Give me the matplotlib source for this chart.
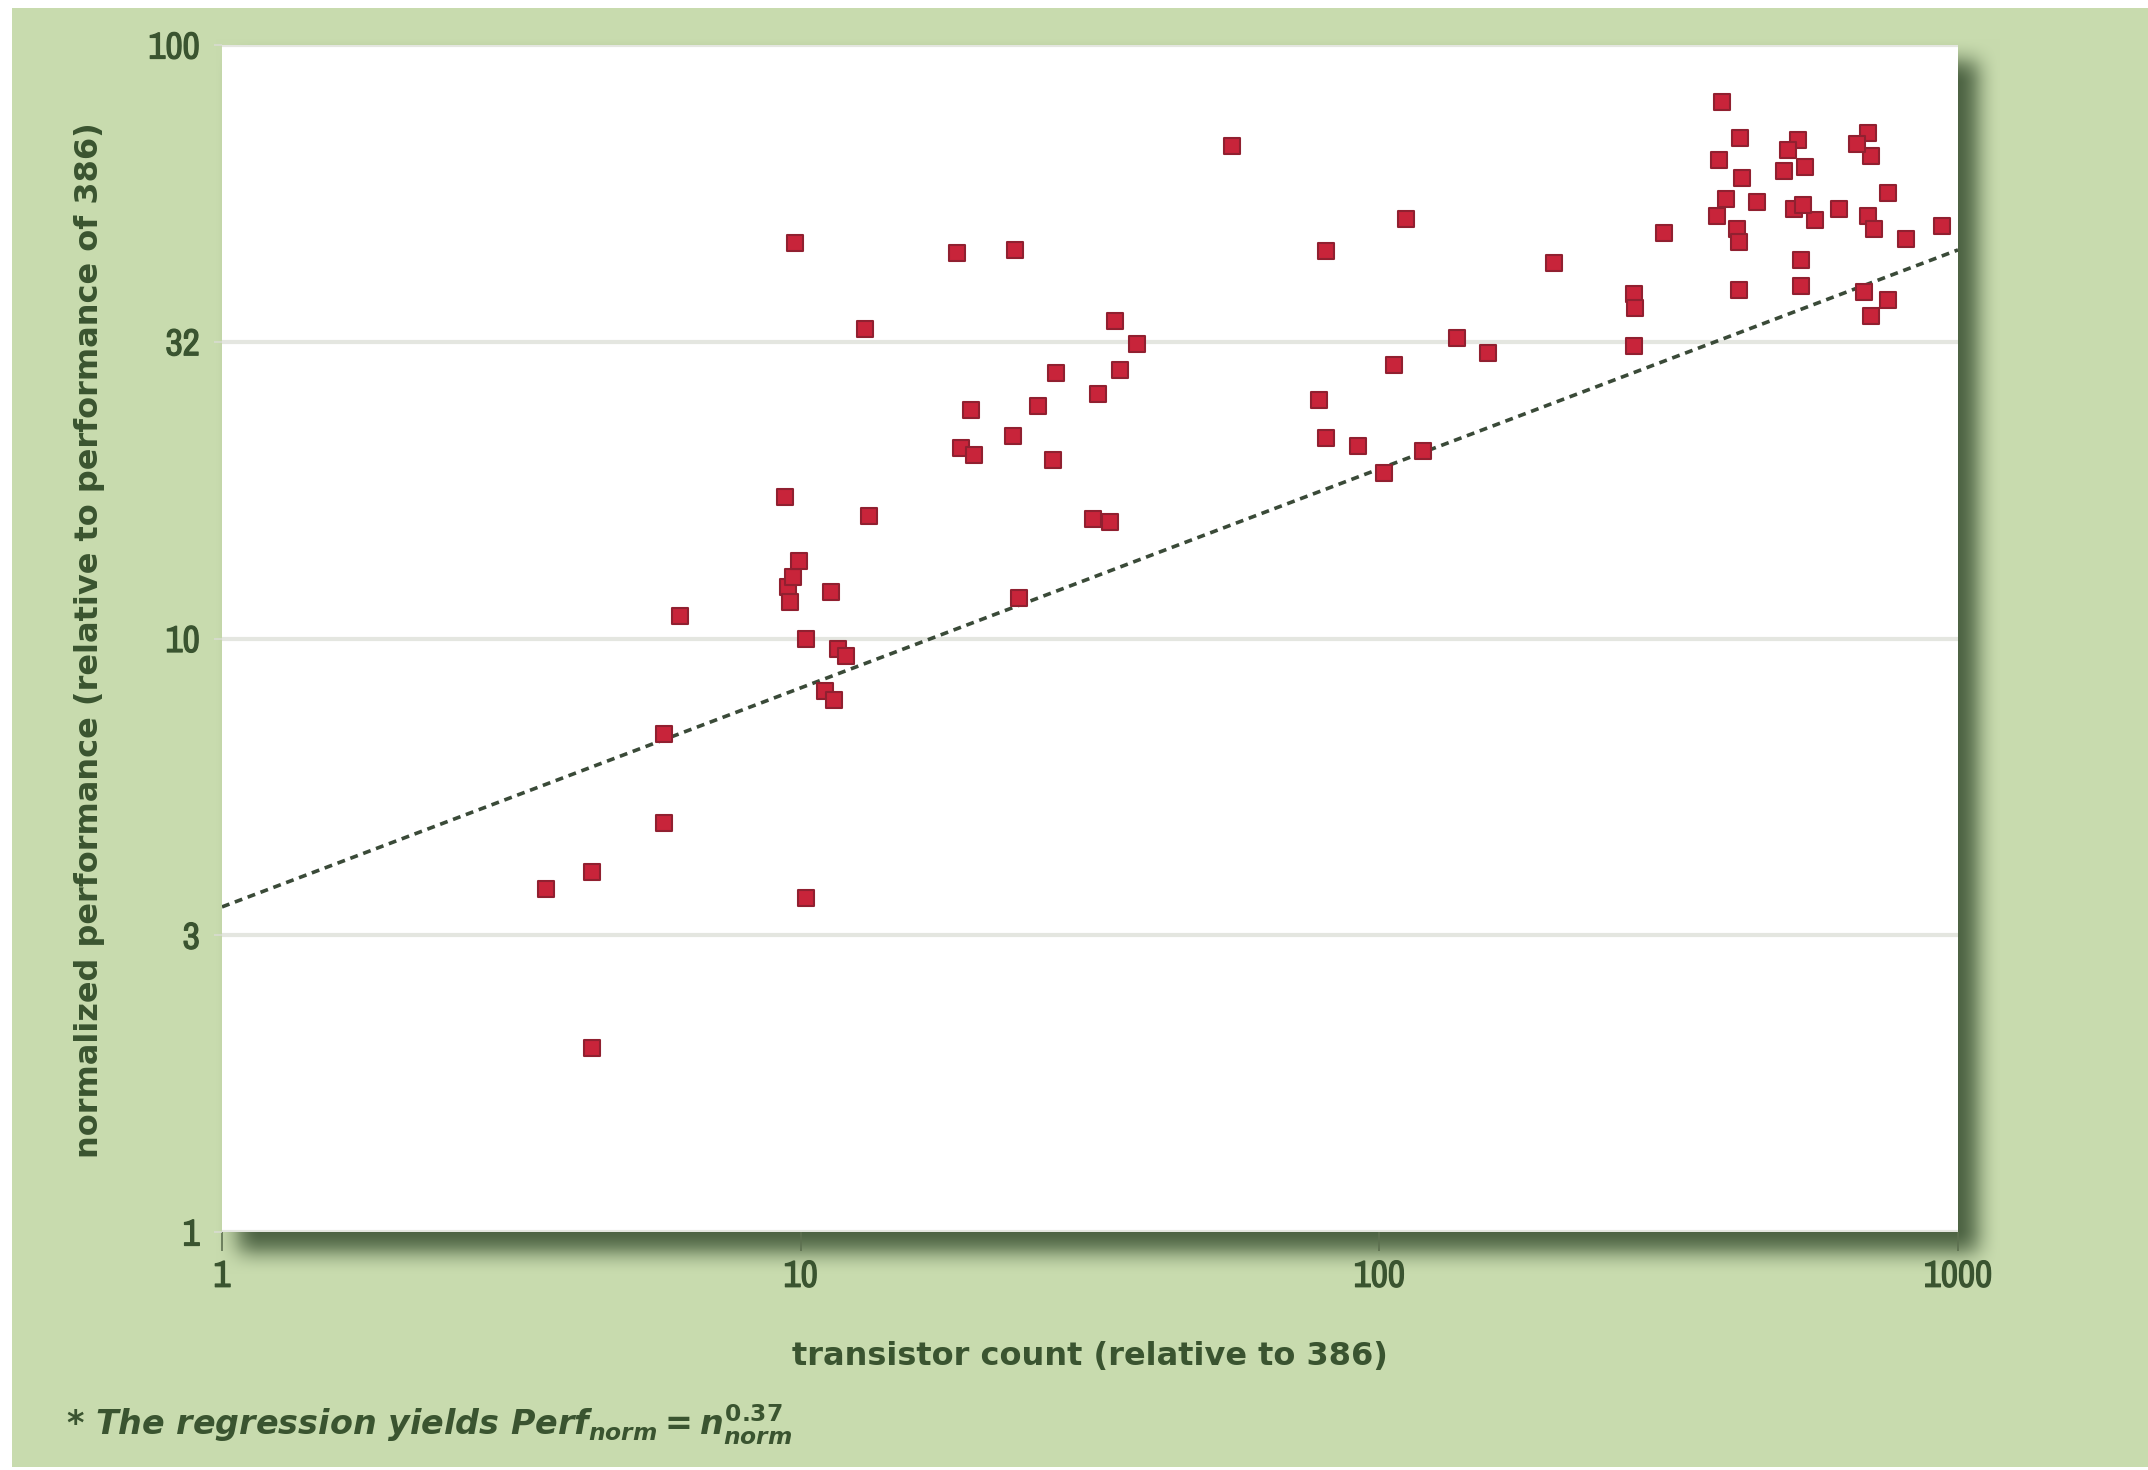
import numpy as np
import matplotlib
matplotlib.use("Agg")
import matplotlib.pyplot as plt
import matplotlib.patheffects as pe
from matplotlib import font_manager as fm

# ---------------- data ----------------
transistors = [3.63, 4.36, 4.36, 5.80, 5.80, 6.19, 9.40, 9.5, 9.6, 9.7, 9.93, 10.2,
               9.77, 10.2, 11.3, 11.0, 11.4, 11.6, 12.0, 12.9, 13.1, 18.6, 18.9, 19.9,
               19.7, 23.5, 23.3, 23.8, 25.7, 27.3, 27.6, 32.7, 32.0, 34.2, 34.9, 35.7,
               38.1, 55.7, 78.7, 80.9, 80.9, 91.8, 102, 106, 111, 119, 136, 154,
               200, 275, 277, 275, 311,
               391, 420, 387, 423, 383, 449, 415, 418, 418, 398,
               529, 544, 520, 565, 624, 535, 535, 509, 500, 540,
               700, 708, 756, 700, 716, 812, 937, 689, 708, 756, 670]
performance = [3.79, 4.04, 2.04, 6.90, 4.89, 10.9, 17.3, 12.2, 11.5, 12.7, 13.5, 10.0,
               46.3, 3.65, 12.0, 8.17, 7.87, 9.59, 9.33, 33.2, 16.1, 44.7, 20.9, 20.4,
               24.3, 45.1, 21.9, 11.7, 24.6, 20.0, 28.0, 25.8, 15.9, 15.7, 34.3, 28.3,
               31.3, 67.5, 25.2, 44.9, 21.8, 21.1, 19.0, 28.9, 50.9, 20.7, 32.1, 30.3,
               43.0, 38.1, 36.1, 31.1, 48.3,
               80.2, 69.6, 64.0, 59.7, 51.5, 54.3, 48.9, 46.6, 38.7, 55.0,
               69.3, 62.4, 52.9, 50.7, 52.9, 43.5, 39.3, 66.6, 61.3, 53.8,
               71.2, 65.0, 56.4, 51.5, 48.9, 47.1, 49.6, 38.3, 35.0, 37.2, 68.2]

fit_coef = 3.53      # regression value at n = 1
fit_exp = 0.369      # regression exponent

x_ticks = [1, 10, 100, 1000]
x_ticklabels = ["1", "10", "100", "1000"]
y_ticks = [1, 10 ** 0.5, 10, 10 ** 1.5, 100]
y_ticklabels = ["1", "3", "10", "32", "100"]

xlabel = "transistor count (relative to 386)"
ylabel = "normalized performance (relative to performance of 386)"
footnote = r"* The regression yields $\mathit{Perf}_{norm} = n_{norm}^{0.37}$"

# ---------------- fonts ----------------
NARROW = "DejaVu Sans"
for f in fm.fontManager.ttflist:
    if "narrow" in f.name.lower():
        NARROW = f.name
        break
plt.rcParams["font.family"] = ["DejaVu Sans"]
plt.rcParams["mathtext.fontset"] = "custom"
plt.rcParams["mathtext.it"] = "DejaVu Sans:italic:bold"
plt.rcParams["mathtext.rm"] = "DejaVu Sans:bold"

TXT = "#3a5430"
GREEN = np.array([0xc8, 0xdb, 0xae]) / 255.0
DARK = np.array([0x3e, 0x55, 0x36]) / 255.0

W, H = 2148, 1470
fig = plt.figure(figsize=(W / 100, H / 100), dpi=100)
fig.patch.set_facecolor("white")

# axes rectangle in pixels (from top-left)
L, R, T, B = 222, 1958, 45, 1232

# ---------------- background with drop shadow ----------------
def blur1d(a, r, axis):
    a = np.moveaxis(a, axis, -1)
    pad = np.pad(a, [(0, 0)] * (a.ndim - 1) + [(r + 1, r)], mode="edge")
    c = np.cumsum(pad, axis=-1)
    out = (c[..., 2 * r + 1:] - c[..., :-(2 * r + 1)]) / (2 * r + 1)
    return np.moveaxis(out, -1, axis)

mask = np.zeros((H, W))
mask[T + 16:B + 20, L + 16:R + 20] = 1.0
for _ in range(2):
    mask = blur1d(mask, 11, 0)
    mask = blur1d(mask, 11, 1)
alpha = np.clip(mask * 0.9, 0, 1)[..., None]
bg = np.ones((H, W, 3)) * GREEN
bg = bg * (1 - alpha) + DARK * alpha
bg[:8, :, :] = 1.0
bg[:, :12, :] = 1.0
bg[H - 3:, :, :] = 1.0

bax = fig.add_axes([0, 0, 1, 1], zorder=-5)
bax.imshow(bg, aspect="auto", extent=(0, 1, 0, 1), interpolation="nearest")
bax.set_axis_off()

# ---------------- main axes ----------------
ax = fig.add_axes([L / W, 1 - B / H, (R - L) / W, (B - T) / H], zorder=1)
ax.set_facecolor("white")
ax.set_xscale("log")
ax.set_yscale("log")
ax.set_xlim(1, 1000)
ax.set_ylim(1, 100)

for s in ax.spines.values():
    s.set_visible(False)

ax.set_xticks(x_ticks)
ax.set_xticklabels(x_ticklabels)
ax.set_yticks(y_ticks)
ax.set_yticklabels(y_ticklabels)
ax.xaxis.set_minor_locator(matplotlib.ticker.NullLocator())
ax.yaxis.set_minor_locator(matplotlib.ticker.NullLocator())
ax.tick_params(axis="x", length=14, width=1.2, color="#5d7050", pad=6,
               labelcolor=TXT)
ax.tick_params(axis="y", length=6, width=1.2, color="#d8dcd0", pad=10,
               labelcolor=TXT)
stroke = [pe.withStroke(linewidth=0.9, foreground=TXT)]
for lab in ax.get_xticklabels() + ax.get_yticklabels():
    lab.set_fontfamily(NARROW)
    lab.set_fontsize(27)
    lab.set_path_effects(stroke)

ax.yaxis.grid(True, color="#e4e6e0", linewidth=3, zorder=0)
ax.set_axisbelow(True)

# regression line
xs = np.array([1.0, 1000.0])
ax.plot(xs, fit_coef * xs ** fit_exp, color="#3a4a38", linewidth=2.6,
        linestyle=(0, (2.2, 1.6)), zorder=2)

ax.scatter(transistors, performance, marker="s", s=125, facecolor="#c8243a",
           edgecolor="#902030", linewidth=1.5, zorder=3)

fig.text(1090 / W, 1 - 1356 / H, xlabel, ha="center", va="center",
         fontsize=23, fontweight="bold", color=TXT)
fig.text(90 / W, 1 - 640 / H, ylabel, ha="center", va="center", rotation=90,
         fontsize=23, fontweight="bold", color=TXT)
fig.text(66 / W, 1 - 1425 / H, footnote, ha="left", va="center",
         fontsize=24, fontstyle="italic", fontweight="bold", color=TXT)

fig.savefig("out.png", dpi=100, facecolor=fig.get_facecolor())
